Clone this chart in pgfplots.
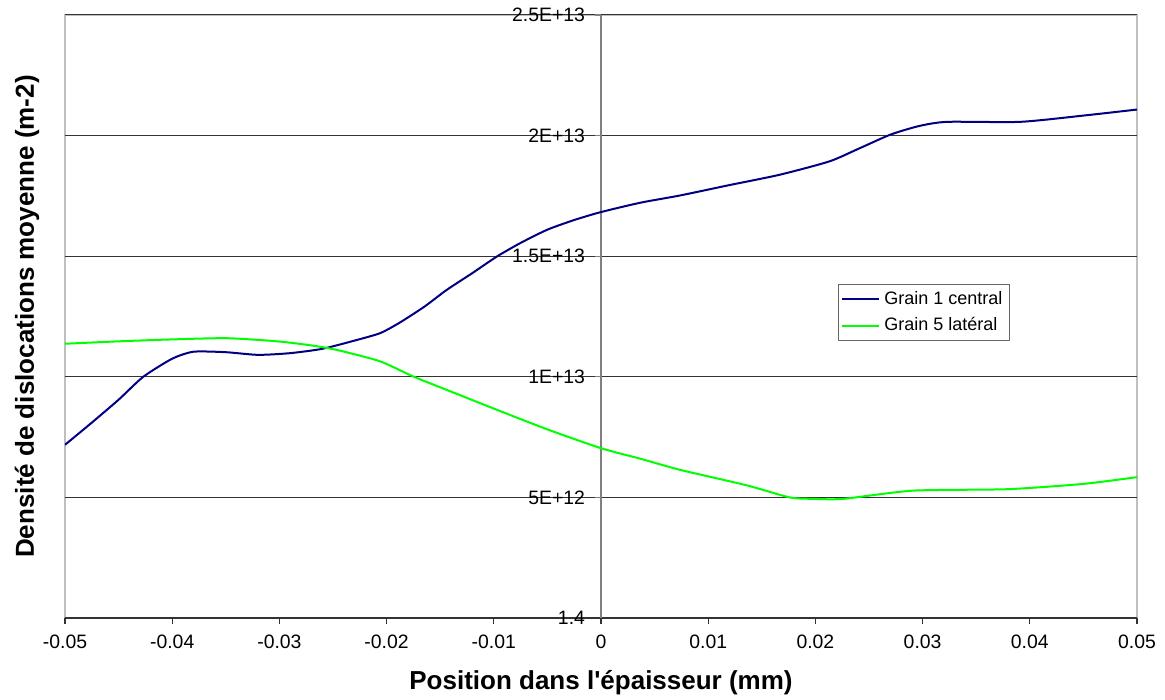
\documentclass[border=0pt]{standalone}
\usepackage{pgfplots}
\pgfplotsset{compat=1.18}
\usepackage{fontspec}
\setmainfont{Liberation Sans}
\definecolor{navyline}{RGB}{0,0,128}
\definecolor{greenline}{RGB}{0,255,0}
\begin{document}
\begin{tikzpicture}
\begin{axis}[
  width=536pt, height=301.5pt, scale only axis,
  xmin=-0.05, xmax=0.05, ymin=0, ymax=25,
  axis x line=bottom, axis y line=middle,
  axis line style={-},
  x axis line style={black!80, line width=0.6pt},
  y axis line style={black!50, line width=0.6pt},
  hide obscured x ticks=false, hide obscured y ticks=false,
  axis background/.style={draw=black!25, line width=0.6pt},
  scaled x ticks=false, scaled y ticks=false,
  xtick={-0.05,-0.04,-0.03,-0.02,-0.01,0,0.01,0.02,0.03,0.04,0.05},
  xticklabels={-0.05,-0.04,-0.03,-0.02,-0.01,0,0.01,0.02,0.03,0.04,0.05},
  ytick={0,5,10,15,20,25},
  yticklabels={1.4,5E+12,1E+13,1.5E+13,2E+13,2.5E+13},
  tick align=outside,
  major tick length=3pt,
  xtick style={black!80, line width=0.6pt},
  ytick style={black!50, line width=0.6pt},
  ticklabel style={font=\fontsize{9.7}{11}\selectfont},
  xticklabel style={yshift=-2pt},
  yticklabel style={anchor=east, xshift=-1.5pt},
  ymajorgrids,
  major grid style={black!80, line width=0.5pt},
  xlabel={\textbf{Position dans l\textquotesingle épaisseur (mm)}},
  ylabel={\textbf{Densité de dislocations moyenne (m-2)}},
  every axis x label/.style={at={(axis description cs:0.5,-0.108)}, anchor=center, font=\fontsize{13}{15}\selectfont},
  every axis y label/.style={at={(axis description cs:-0.0354,0.5)}, rotate=90, anchor=center, font=\fontsize{13}{15}\selectfont},
  legend style={at={(axis description cs:0.721,0.554)}, anchor=north west, draw=black!60, line width=0.5pt, font=\fontsize{9}{11}\selectfont, inner sep=1.5pt, row sep=1pt, cells={anchor=west}},
  legend image code/.code={\draw[#1] (0pt,0pt) -- (18.5pt,0pt);},
]
\coordinate (sw) at (rel axis cs:0,0);
\addplot[navyline, line width=1pt, smooth, tension=0.4] coordinates {
(-0.05,7.18) (-0.0475,8.1) (-0.045,9.05) (-0.0427,10.0) (-0.04,10.75) (-0.038,11.04)
(-0.035,11.02) (-0.032,10.91) (-0.029,10.98) (-0.026,11.16) (-0.023,11.5) (-0.0206,11.81)
(-0.0188,12.24) (-0.0165,12.9) (-0.0144,13.6) (-0.012,14.3) (-0.0097,14.99) (-0.0075,15.55)
(-0.005,16.1) (-0.0025,16.5) (0,16.83) (0.0037,17.22) (0.0074,17.52) (0.012,17.95)
(0.0167,18.38) (0.0213,18.93) (0.024,19.45) (0.027,20.04) (0.0297,20.4) (0.0323,20.57)
(0.0391,20.57) (0.045,20.83) (0.05,21.08)
};
\addlegendentry{Grain 1 central}
\addplot[greenline, line width=1pt, smooth, tension=0.4] coordinates {
(-0.05,11.37) (-0.045,11.47) (-0.04,11.55) (-0.0349,11.6) (-0.0302,11.47) (-0.027,11.3)
(-0.0245,11.1) (-0.0206,10.64) (-0.0175,10.01) (-0.0135,9.3) (-0.0097,8.63) (-0.005,7.82)
(0,7.04) (0.0037,6.6) (0.0074,6.14) (0.0136,5.5) (0.0176,5.0) (0.0198,4.94) (0.0226,4.94)
(0.0291,5.28) (0.0379,5.34) (0.045,5.56) (0.05,5.84)
};
\addlegendentry{Grain 5 latéral}
\end{axis}
\pgfresetboundingbox
\path[use as bounding box] ([shift={(-32.5pt,-41pt)}]sw) rectangle ++(582.5pt,350pt);
\end{tikzpicture}
\end{document}
